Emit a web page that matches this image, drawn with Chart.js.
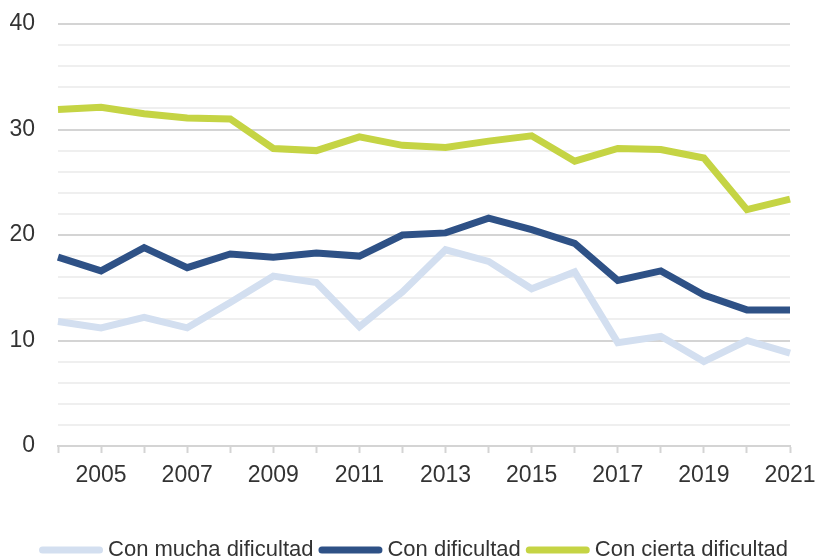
<!DOCTYPE html>
<html>
<head>
<meta charset="utf-8">
<script src="https://cdn.jsdelivr.net/npm/chart.js@4/dist/chart.umd.min.js"></script>
<style>
  html, body { margin: 0; padding: 0; background: #ffffff; }
  #wrap { width: 819px; height: 558px; position: relative; }
</style>
</head>
<body>
<div id="wrap"><canvas id="c" width="819" height="558"></canvas></div>
<script>
const years = ['2004','2005','2006','2007','2008','2009','2010','2011','2012','2013','2014','2015','2016','2017','2018','2019','2020','2021'];
const seriesNames = ['Con mucha dificultad', 'Con dificultad', 'Con cierta dificultad'];
const conMucha = [11.8, 11.2, 12.2, 11.2, 13.6, 16.1, 15.5, 11.3, 14.6, 18.6, 17.5, 14.9, 16.5, 9.8, 10.4, 8.0, 10.0, 8.8];
const conDificultad = [17.9, 16.6, 18.8, 16.9, 18.2, 17.9, 18.3, 18.0, 20.0, 20.2, 21.6, 20.5, 19.2, 15.7, 16.6, 14.3, 12.9, 12.9];
const conCierta = [31.9, 32.1, 31.5, 31.1, 31.0, 28.2, 28.0, 29.3, 28.5, 28.3, 28.9, 29.4, 27.0, 28.2, 28.1, 27.3, 22.4, 23.4];
const yMajorTicks = [0, 10, 20, 30, 40];

const colors = ['#d3dff0', '#2e5186', '#c5d444'];
const FONT = "'Liberation Sans', Arial, sans-serif";
const TEXT = '#333333';

const legendPlugin = {
  id: 'customLegend',
  afterDraw(chart) {
    const ctx = chart.ctx;
    const ds = chart.data.datasets;
    ctx.save();
    ctx.font = '22px ' + FONT;
    const lineLen = 64, gapText = 5, gapItem = 5;
    const widths = ds.map(d => ctx.measureText(d.label).width);
    let total = 0;
    widths.forEach((w, i) => { total += lineLen + gapText + w; if (i < widths.length - 1) total += gapItem; });
    let x = 413.5 - total / 2;
    const y = 550;
    ds.forEach((d, i) => {
      ctx.strokeStyle = d.borderColor;
      ctx.lineWidth = 7;
      ctx.lineCap = 'round';
      ctx.beginPath();
      ctx.moveTo(x + 3.5, y);
      ctx.lineTo(x + lineLen - 3.5, y);
      ctx.stroke();
      x += lineLen + gapText;
      ctx.fillStyle = TEXT;
      ctx.textBaseline = 'middle';
      ctx.textAlign = 'left';
      ctx.fillText(d.label, x, y);
      x += widths[i] + gapItem;
    });
    ctx.restore();
  }
};

const data = {
  labels: years,
  datasets: [
    { label: seriesNames[0], data: conMucha, borderColor: colors[0], backgroundColor: colors[0] },
    { label: seriesNames[1], data: conDificultad, borderColor: colors[1], backgroundColor: colors[1] },
    { label: seriesNames[2], data: conCierta, borderColor: colors[2], backgroundColor: colors[2] }
  ].map(d => Object.assign(d, { borderWidth: 7, pointRadius: 0, pointHoverRadius: 0, tension: 0, fill: false, borderJoinStyle: 'miter' }))
};

new Chart(document.getElementById('c'), {
  type: 'line',
  data: data,
  plugins: [legendPlugin],
  options: {
    responsive: false,
    animation: false,
    devicePixelRatio: 1,
    layout: { padding: { top: 24, right: 29, bottom: 0, left: 0 } },
    plugins: { legend: { display: false }, tooltip: { enabled: false } },
    scales: {
      x: {
        type: 'category',
        offset: false,
        afterFit(s) { s.height = 112; s.paddingLeft = 0; s.paddingRight = 0; },
        grid: { drawOnChartArea: false, drawTicks: true, tickLength: 7, tickColor: '#d4d4d4', tickWidth: 2 },
        border: { display: true, color: '#d4d4d4', width: 2 },
        ticks: {
          autoSkip: false, maxRotation: 0, minRotation: 0, padding: 9,
          color: TEXT, font: { family: FONT, size: 23 },
          callback(v, i) { const y = parseInt(years[i], 10); return y % 2 === 1 ? years[i] : ''; }
        }
      },
      y: {
        min: 0, max: 40,
        afterFit(s) { s.width = 58; s.paddingTop = 0; s.paddingBottom = 0; },
        border: { display: false },
        grid: {
          drawTicks: false,
          lineWidth: 2,
          color(c) { return yMajorTicks.includes(c.tick.value) ? '#d4d4d4' : '#efefef'; }
        },
        ticks: {
          stepSize: 2, autoSkip: false, padding: 23,
          color: TEXT, font: { family: FONT, size: 23 },
          callback(v) { return yMajorTicks.includes(v) ? String(v) : ''; }
        }
      }
    }
  }
});
</script>
</body>
</html>
